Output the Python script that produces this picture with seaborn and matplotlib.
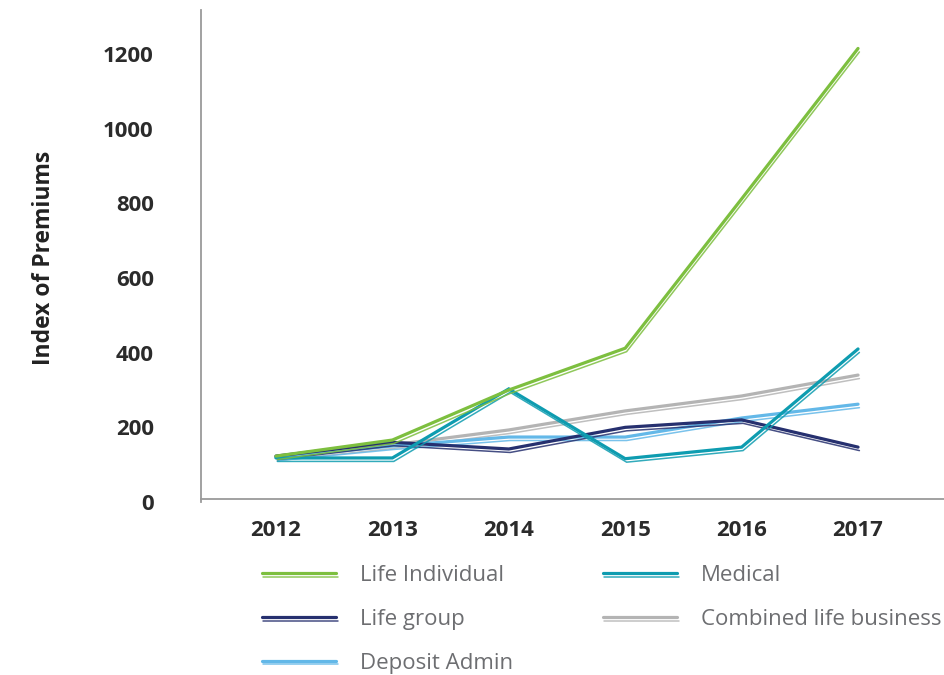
import matplotlib
matplotlib.use("Agg")
import matplotlib.pyplot as plt
import matplotlib.patheffects as pe
import seaborn as sns
import pandas as pd

years = [2012, 2013, 2014, 2015, 2016, 2017]
life_individual = [123, 166, 300, 412, 812, 1215]
medical = [118, 118, 303, 116, 147, 410]
life_group = [123, 160, 142, 200, 220, 147]
combined_life = [120, 153, 193, 244, 284, 340]
deposit_admin = [120, 150, 174, 174, 225, 262]

series_names = ["Life Individual", "Medical", "Life group",
                "Combined life business", "Deposit Admin"]
series_values = [life_individual, medical, life_group, combined_life, deposit_admin]
colors = {
    "Life Individual": "#7dbf3f",
    "Medical": "#0e9cb0",
    "Life group": "#26306f",
    "Combined life business": "#b4b4b4",
    "Deposit Admin": "#63b8e8",
}
y_ticks = [0, 200, 400, 600, 800, 1000, 1200]

rows = []
for name, vals in zip(series_names, series_values):
    for yr, v in zip(years, vals):
        rows.append({"Year": yr, "Value": v, "Series": name})
df = pd.DataFrame(rows)

sns.set_style("white")
plt.rcParams["font.family"] = ["Open Sans", "DejaVu Sans"]

fig = plt.figure(figsize=(9.45, 6.75), dpi=100)
ax = fig.add_axes([201 / 945, 1 - 502 / 675, 744 / 945, 492 / 675])

draw_order = ["Combined life business", "Deposit Admin", "Life group",
              "Medical", "Life Individual"]
lines = {}
for name in draw_order:
    sub = df[df["Series"] == name]
    sns.lineplot(data=sub, x="Year", y="Value", color=colors[name],
                 linewidth=2.3, ax=ax, label=name, legend=False)
    ln = ax.lines[-1]
    ln.set_path_effects([
        pe.SimpleLineShadow(offset=(1.0, -2.5), shadow_color=colors[name],
                            alpha=0.85, linewidth=1.1),
        pe.Normal(),
    ])
    ln.set_solid_joinstyle("miter")
    lines[name] = ln

ax.set_xlim(2011.356, 2017.747)
ax.set_ylim(0, 1318)
ax.spines["bottom"].set_position(("data", 8))
ax.set_xticks(years)
ax.set_xticklabels([str(y) for y in years])
ax.set_yticks(y_ticks)
ax.set_yticklabels([str(v) for v in y_ticks])
ax.tick_params(axis="both", length=0, labelsize=16, labelcolor="#2b2b2b")
ax.tick_params(axis="x", pad=15)
ax.tick_params(axis="y", pad=34)
for lab in ax.get_xticklabels() + ax.get_yticklabels():
    lab.set_fontweight("bold")

ax.set_xlabel("")
ax.set_ylabel("Index of Premiums", fontsize=16.5, fontweight="bold", color="#222222")
ax.yaxis.set_label_coords((44 - 201) / 744, (502 - 258) / 492)
ax.yaxis.label.set_va("center")
ax.yaxis.label.set_ha("center")

for side in ["top", "right"]:
    ax.spines[side].set_visible(False)
for side in ["left", "bottom"]:
    ax.spines[side].set_color("#9a9a9a")
    ax.spines[side].set_linewidth(1.3)

legend_order = ["Life Individual", "Life group", "Deposit Admin",
                "Medical", "Combined life business"]
leg = fig.legend([lines[n] for n in legend_order], legend_order,
                 loc="upper left", bbox_to_anchor=(262 / 945, 1 - 565 / 675),
                 ncol=2, frameon=False, fontsize=16, handlelength=3.35,
                 handletextpad=1.05, columnspacing=4.05, labelspacing=1.03,
                 borderpad=0, borderaxespad=0)
for t in leg.get_texts():
    t.set_color("#6d6e71")

fig.savefig("out.png", dpi=100)
